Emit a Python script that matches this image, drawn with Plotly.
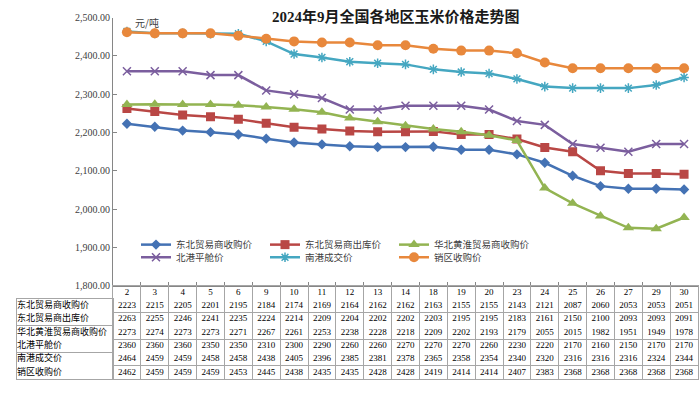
import plotly.graph_objects as go

dates = ['2', '3', '4', '5', '6', '9', '10', '11', '12', '13', '14',
         '18', '19', '20', '23', '24', '25', '26', '27', '29', '30']

names = ['东北贸易商收购价', '东北贸易商出库价', '华北黄淮贸易商收购价',
         '北港平舱价', '南港成交价', '销区收购价']

ne_buy = [2223, 2215, 2205, 2201, 2195, 2184, 2174, 2169, 2164, 2162, 2162,
          2163, 2155, 2155, 2143, 2121, 2087, 2060, 2053, 2053, 2051]
ne_out = [2263, 2255, 2246, 2241, 2235, 2224, 2214, 2209, 2204, 2202, 2202,
          2203, 2195, 2195, 2183, 2161, 2150, 2100, 2093, 2093, 2091]
nc_buy = [2273, 2274, 2273, 2273, 2271, 2267, 2261, 2253, 2238, 2228, 2218,
          2209, 2202, 2193, 2179, 2055, 2015, 1982, 1951, 1949, 1978]
north_port = [2360, 2360, 2360, 2350, 2350, 2310, 2300, 2290, 2260, 2260, 2270,
              2270, 2270, 2260, 2230, 2220, 2170, 2160, 2150, 2170, 2170]
south_port = [2464, 2459, 2459, 2458, 2458, 2438, 2405, 2396, 2385, 2381, 2378,
              2365, 2358, 2354, 2340, 2320, 2316, 2316, 2316, 2324, 2344]
sales_buy = [2462, 2459, 2459, 2459, 2453, 2445, 2438, 2435, 2435, 2428, 2428,
             2419, 2414, 2414, 2407, 2383, 2368, 2368, 2368, 2368, 2368]

series = [ne_buy, ne_out, nc_buy, north_port, south_port, sales_buy]

colors = ['#4472B4', '#B94745', '#93B452', '#7B5E9E', '#45A7C1', '#E8883C']
symbols = ['diamond', 'square', 'triangle-up', 'x-thin', 'asterisk', 'circle']
msizes = [8, 9, 10, 8, 8, 10]

W, H = 700, 393
def px_x(p): return p / W
def px_y(p): return 1 - p / H

# legend slots: (column, row) for each series
leg_cols = [136, 265, 394]
leg_rows = [231, 244]
leg_slot = [(0, 0), (1, 0), (2, 0), (0, 1), (1, 1), (2, 1)]

fig = go.Figure()
for i, (nm, vals) in enumerate(zip(names, series)):
    mk = dict(symbol=symbols[i], size=msizes[i], color=colors[i])
    if symbols[i] in ('x-thin', 'asterisk'):
        mk['line'] = dict(color=colors[i], width=1.5)
    fig.add_trace(go.Scatter(
        x=dates, y=vals, name=nm, mode='lines+markers',
        line=dict(color=colors[i], width=2.5),
        marker=mk,
        legend='legend' if i == 0 else f'legend{i + 1}',
        xaxis='x', yaxis='y'))

# ---- data table (text on category axes, borders from gridlines) ----
border = '#A6A6A6'
num_font = dict(family='Liberation Serif', size=9, color='#000000')
lab_font = dict(family='Noto Sans CJK SC', size=9, color='#000000')
row_cats = ['hdr'] + names

fig.add_trace(go.Scatter(x=dates, y=['hdr'] * len(dates), text=dates, mode='text',
                         textfont=num_font, showlegend=False, hoverinfo='skip',
                         xaxis='x2', yaxis='y2'))
for nm, vals in zip(names, series):
    fig.add_trace(go.Scatter(x=dates, y=[nm] * len(dates), text=[str(v) for v in vals],
                             mode='text', textfont=num_font, showlegend=False,
                             hoverinfo='skip', xaxis='x2', yaxis='y2'))
fig.add_trace(go.Scatter(x=[0] * len(names), y=names, text=names, mode='text',
                         textposition='middle right', textfont=lab_font,
                         showlegend=False, hoverinfo='skip', xaxis='x3', yaxis='y3'))

tbl_top, tbl_bot = 288, 384
grid_axis = dict(showgrid=True, gridcolor=border, gridwidth=1, showline=True, mirror=True,
                 linecolor=border, linewidth=1, showticklabels=False, ticks='',
                 zeroline=False, fixedrange=True)

axis_col = '#868686'
leg_font = dict(family='Noto Sans CJK SC', size=9.5, color='#404040')

legends = {}
for i, (c, r) in enumerate(leg_slot):
    key = 'legend' if i == 0 else f'legend{i + 1}'
    legends[key] = dict(orientation='h', x=px_x(leg_cols[c]), y=px_y(leg_rows[r]),
                        xanchor='left', yanchor='top', bgcolor='rgba(0,0,0,0)',
                        font=leg_font, itemwidth=30)

fig.update_layout(
    width=W, height=H,
    margin=dict(l=0, r=0, t=0, b=0),
    paper_bgcolor='white', plot_bgcolor='white',
    showlegend=True,
    hovermode=False,
    xaxis=dict(domain=[px_x(113), px_x(698)], type='category',
               range=[-0.5, len(dates) - 0.5],
               showgrid=False, showline=True, linecolor=axis_col, linewidth=1,
               ticks='inside', ticklen=4, tickcolor=axis_col, tickson='boundaries',
               showticklabels=False, zeroline=False, fixedrange=True, anchor='y'),
    yaxis=dict(domain=[px_y(288), px_y(13)], range=[1800, 2500], dtick=100,
               tickformat=',.2f', showgrid=False, showline=True,
               linecolor=axis_col, linewidth=1, ticks='inside', ticklen=4,
               tickcolor=axis_col, zeroline=False, anchor='x',
               tickfont=dict(family='Liberation Serif', size=10, color='#404040')),
    xaxis2=dict(domain=[px_x(113), px_x(698)], type='category', categoryarray=dates,
                categoryorder='array', range=[-0.5, len(dates) - 0.5],
                tickson='boundaries', anchor='y2', **grid_axis),
    yaxis2=dict(domain=[px_y(tbl_bot), px_y(tbl_top)], type='category',
                categoryarray=row_cats, categoryorder='array',
                range=[len(row_cats) - 0.5, -0.5], tickson='boundaries', anchor='x2',
                **grid_axis),
    xaxis3=dict(domain=[px_x(17), px_x(113)], range=[0, 1], anchor='y3',
                **{**grid_axis, 'showgrid': False}),
    yaxis3=dict(domain=[px_y(tbl_bot), px_y(tbl_top + (tbl_bot - tbl_top) / 7)],
                type='category', categoryarray=names, categoryorder='array',
                range=[len(names) - 0.5, -0.5], tickson='boundaries', anchor='x3',
                **grid_axis),
    annotations=[
        dict(text='<b>2024年9月全国各地区玉米价格走势图</b>', xref='paper', yref='paper',
             x=px_x(396), y=px_y(12), xanchor='center', yanchor='middle', showarrow=False,
             font=dict(family='Liberation Serif, Noto Sans CJK SC', size=15, color='#1a1a1a')),
        dict(text='元/吨', xref='paper', yref='paper', x=px_x(133), y=px_y(18),
             xanchor='left', yanchor='middle', showarrow=False,
             font=dict(family='Noto Sans CJK SC', size=10, color='#404040')),
    ],
    **legends,
)

fig.write_html('out.html',
               config={'displayModeBar': False},
               post_script="document.body.style.margin='0';"
                           "document.body.style.overflow='hidden';")
